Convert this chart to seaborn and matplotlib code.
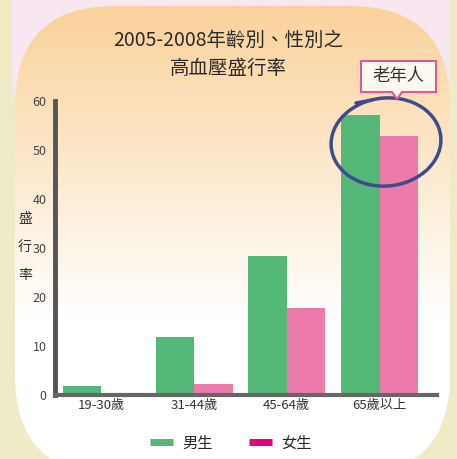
import numpy as np
import pandas as pd
import seaborn as sns
import matplotlib.pyplot as plt
from matplotlib.patches import FancyBboxPatch, Rectangle, Ellipse, Polygon
from matplotlib.lines import Line2D

# dados
faixas = ['19-30歲', '31-44歲', '45-64歲', '65歲以上']
homens = [1.8, 11.8, 28.4, 57.1]
mulheres = [0.0, 2.2, 17.8, 52.9]
sexos = ['男生', '女生']
yticks = [0, 10, 20, 30, 40, 50, 60]

df = pd.DataFrame({
    'faixa': faixas * 2,
    'sexo': [sexos[0]] * 4 + [sexos[1]] * 4,
    'taxa': homens + mulheres,
})

sns.set_style('white')
plt.rcParams['font.family'] = ['Noto Sans CJK TC', 'DejaVu Sans']

W, H = 457, 459
fig = plt.figure(figsize=(W / 100, H / 100), dpi=100)
fig.patch.set_facecolor('#EEEBC6')

# fundo decorativo em coordenadas de pixel
bg = fig.add_axes([0, 0, 1, 1], zorder=-5)
bg.set_xlim(0, W)
bg.set_ylim(H, 0)
bg.axis('off')
bg.add_patch(Rectangle((12, 0), 436, 93, color='#F8E7F1', zorder=0))
painel = FancyBboxPatch((15, 6), 435, 469, boxstyle='round,pad=0,rounding_size=100',
                        facecolor='none', edgecolor='none', zorder=1)
bg.add_patch(painel)
grad = np.linspace(0, 1, 256).reshape(-1, 1)
c_top = np.array([250, 210, 155]) / 255
c_bot = np.array([255, 255, 255]) / 255
img = c_top[None, None, :] * (1 - grad[..., None]) + c_bot[None, None, :] * grad[..., None]
im = bg.imshow(img, extent=(15, 450, 320, 6), aspect='auto', zorder=1)
im.set_clip_path(painel)
branco = bg.imshow(np.ones((2, 2, 3)), extent=(15, 450, 480, 319), aspect='auto', zorder=1)
branco.set_clip_path(painel)

# título
fig.text(0.5, 1 - 40 / H, '2005-2008年齡別、性別之', ha='center', va='center',
         fontsize=14, color='#2b2b2b')
fig.text(0.5, 1 - 68 / H, '高血壓盛行率', ha='center', va='center',
         fontsize=14, color='#2b2b2b')

# gráfico principal
ax = fig.add_axes([55 / W, 1 - 395 / H, (437 - 55) / W, (395 - 101) / H])
ax.set_facecolor('none')
sns.barplot(data=df, x='faixa', y='taxa', hue='sexo', palette=['#55B879', '#EC7BAC'],
            width=0.83, saturation=1, linewidth=0, ax=ax, legend=False)
ax.set_xlim(-0.5, 3.62)
ax.set_ylim(0, 60)
ax.set_yticks(yticks)
ax.tick_params(axis='both', length=0)
ax.tick_params(axis='y', labelsize=9, labelcolor='#444', pad=6)
ax.tick_params(axis='x', labelsize=9.5, labelcolor='#333', pad=3)
ax.set_xlabel('')
ax.set_ylabel('')
sns.despine(ax=ax)
ax.spines['left'].set_linewidth(3.5)
ax.spines['left'].set_color('#555555')
ax.spines['bottom'].set_linewidth(3)
ax.spines['bottom'].set_color('#666666')

fig.text(25 / W, 1 - 247 / H, '盛\n行\n率', ha='center', va='center', fontsize=10,
         color='#333', linespacing=2.3)

# destaque "老年人" por cima das barras
top = fig.add_axes([0, 0, 1, 1], zorder=10)
top.set_xlim(0, W)
top.set_ylim(H, 0)
top.axis('off')
top.add_patch(Ellipse((386, 142), 110, 88, angle=-6, facecolor='none',
                      edgecolor='#3E4C8A', lw=2.5))
top.plot([356, 372], [103, 100], color='#3E4C8A', lw=2.5, solid_capstyle='round')
top.add_patch(Rectangle((361, 61), 75, 31, facecolor='#FCFAEE', edgecolor='#E0589C', lw=1.5))
top.add_patch(Polygon([[392, 91], [402, 91], [397, 99]], closed=True,
                      facecolor='#FCFAEE', edgecolor='none', zorder=3))
top.plot([392, 397, 402], [92, 99, 92], color='#E0589C', lw=1.5, zorder=4)
top.text(398, 76, '老年人', ha='center', va='center', fontsize=12.5, color='#333', zorder=5)

# legenda
handles = [Line2D([], [], color='#55B879', lw=5, solid_capstyle='butt'),
           Line2D([], [], color='#E6007E', lw=5, solid_capstyle='butt')]
fig.legend(handles, sexos, loc='center', bbox_to_anchor=(0.505, 1 - 443 / H), ncol=2,
           frameon=False, fontsize=11, handlelength=1.5, handletextpad=0.6,
           columnspacing=2.4)

plt.savefig('out.png', dpi=100, facecolor=fig.get_facecolor())
